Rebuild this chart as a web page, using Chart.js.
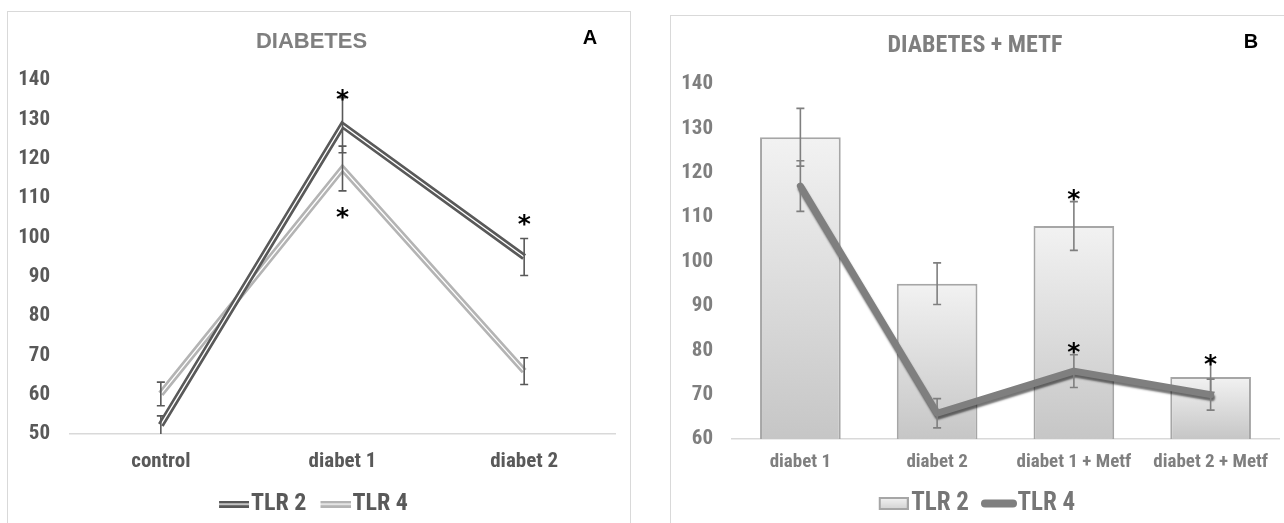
<!DOCTYPE html>
<html>
<head>
<meta charset="utf-8">
<script src="https://cdn.jsdelivr.net/npm/chart.js@4.4.1/dist/chart.umd.min.js"></script>
<style>
html, body { margin: 0; padding: 0; background: #fff; width: 1284px; height: 523px; overflow: hidden; }
.panel { position: absolute; border: 1.5px solid #d9d9d9; box-sizing: border-box; }
#panelA { left: 7px; top: 11px; width: 624px; height: 580px; }
#panelB { left: 670px; top: 15px; width: 640px; height: 580px; }
canvas { position: absolute; }
#chartA { left: 8px; top: 12px; }
#chartB { left: 671px; top: 16px; }
</style>
</head>
<body>
<div class="panel" id="panelA"></div>
<div class="panel" id="panelB"></div>
<canvas id="chartA" width="622" height="514"></canvas>
<canvas id="chartB" width="613" height="510"></canvas>
<script>
// panel A - DIABETES
const labelsA = ["control", "diabet 1", "diabet 2"];
const tlr2A = [52.3, 128.5, 95];
const tlr2ErrA = [2.3, 7, 4.7];
const tlr4A = [60.2, 117.5, 66];
const tlr4ErrA = [3, 5.7, 3.4];
const starIndexA = [1, 1, 2];
const starValueA = [136.3, 106.2, 104.5];

// panel B - DIABETES + METF
const labelsB = ["diabet 1", "diabet 2", "diabet 1 + Metf", "diabet 2 + Metf"];
const tlr2B = [128, 95, 108, 74];
const tlr2ErrB = [6.5, 4.7, 5.5, 3.5];
const tlr4B = [117, 65.8, 75.3, 70];
const tlr4ErrB = [5.7, 3.3, 3.7, 3.5];
const starIndexB = [2, 2, 3];
const starValueB = [115, 80.4, 77.7];

const FONT = "'Liberation Sans Narrow', 'Roboto Condensed', 'Liberation Sans', sans-serif";

// legend icons get empty space on the left so the text sits close to them
const icon = (w, h, pad, draw) => {
    const c = document.createElement("canvas");
    c.width = w + pad;
    c.height = h;
    const ctx = c.getContext("2d");
    ctx.translate(pad, 0);
    draw(ctx, w, h);
    return c;
};

const doubleLine = (color) => icon(30, 7, 14, (ctx, w, h) => {
    ctx.fillStyle = color;
    ctx.fillRect(0, 0, w, h);
    ctx.fillStyle = "#fff";
    ctx.fillRect(0, 3, w, 1.3);
});

const barIcon = icon(30, 13, 14, (ctx, w, h) => {
    const g = ctx.createLinearGradient(0, 0, 0, h);
    g.addColorStop(0, "#f4f4f4");
    g.addColorStop(1, "#d0d0d0");
    ctx.fillStyle = g;
    ctx.fillRect(0, 0, w, h);
    ctx.strokeStyle = "#a6a6a6";
    ctx.lineWidth = 2;
    ctx.strokeRect(1, 1, w - 2, h - 2);
});

const thickLine = icon(36, 9, 12, (ctx, w, h) => {
    ctx.strokeStyle = "#7f7f7f";
    ctx.lineWidth = 8;
    ctx.lineCap = "round";
    ctx.beginPath();
    ctx.moveTo(4, h / 2);
    ctx.lineTo(w - 4, h / 2);
    ctx.stroke();
});

const errorBars = {
    id: "errorBars",
    afterDatasetsDraw(chart, args, opts) {
        const {ctx, scales: {x, y}} = chart;
        ctx.save();
        ctx.strokeStyle = opts.color;
        ctx.lineWidth = 1.6;
        opts.series.forEach(({values, errors}) => {
            values.forEach((v, i) => {
                const px = x.getPixelForValue(i);
                const top = y.getPixelForValue(v + errors[i]);
                const bottom = y.getPixelForValue(Math.max(v - errors[i], y.min));
                ctx.beginPath();
                ctx.moveTo(px, top);
                ctx.lineTo(px, bottom);
                ctx.moveTo(px - 4, top);
                ctx.lineTo(px + 4, top);
                if (v - errors[i] > y.min) {
                    ctx.moveTo(px - 4, bottom);
                    ctx.lineTo(px + 4, bottom);
                }
                ctx.stroke();
            });
        });
        ctx.restore();
    }
};

const stars = {
    id: "stars",
    afterDatasetsDraw(chart, args, opts) {
        const {ctx, scales: {x, y}} = chart;
        ctx.save();
        ctx.fillStyle = "#000";
        ctx.font = "bold 25px 'DejaVu Sans'";
        ctx.textAlign = "center";
        const m = ctx.measureText("*");
        const shift = (m.actualBoundingBoxAscent - m.actualBoundingBoxDescent) / 2;
        opts.index.forEach((idx, i) => {
            ctx.fillText("*", x.getPixelForValue(idx), y.getPixelForValue(opts.value[i]) + shift);
        });
        ctx.restore();
    }
};

const panelLetter = {
    id: "panelLetter",
    afterDraw(chart, args, opts) {
        const ctx = chart.ctx;
        ctx.save();
        ctx.fillStyle = "#000";
        ctx.font = "bold 20px 'Liberation Sans'";
        ctx.textAlign = "center";
        ctx.textBaseline = "middle";
        ctx.fillText(opts.text, chart.chartArea.right + opts.dx, opts.y);
        ctx.restore();
    }
};

const lineShadow = {
    id: "lineShadow",
    beforeDatasetDraw(chart, args) {
        if (args.meta.type !== "line") return;
        const ctx = chart.ctx;
        ctx.save();
        ctx.shadowColor = "rgba(0,0,0,0.55)";
        ctx.shadowOffsetX = 1;
        ctx.shadowOffsetY = 3;
        ctx.shadowBlur = 2;
    },
    afterDatasetDraw(chart, args) {
        if (args.meta.type !== "line") return;
        chart.ctx.restore();
    }
};

new Chart(document.querySelector("#chartA"), {
    type: "line",
    data: {
        labels: labelsA,
        datasets: [{
            label: "TLR 2",
            data: tlr2A,
            borderColor: "#595959",
            borderWidth: 6.5,
            pointRadius: 0,
            pointStyle: doubleLine("#595959"),
            order: 2
        }, {
            label: "TLR 4",
            data: tlr4A,
            borderColor: "#b4b4b4",
            borderWidth: 6.5,
            pointRadius: 0,
            pointStyle: doubleLine("#b4b4b4"),
            order: 4
        }, {
            label: "",
            data: tlr2A,
            borderColor: "#fff",
            borderWidth: 1.3,
            pointRadius: 0,
            order: 1
        }, {
            label: "",
            data: tlr4A,
            borderColor: "#fff",
            borderWidth: 1.3,
            pointRadius: 0,
            order: 3
        }]
    },
    options: {
        responsive: false,
        animation: false,
        devicePixelRatio: 1,
        layout: {padding: {left: 0, right: 15, top: 0, bottom: 0}},
        scales: {
            x: {
                offset: true,
                grid: {display: false, drawTicks: false},
                border: {display: true, color: "#d9d9d9", width: 1.5},
                ticks: {color: "#595959", font: {family: FONT, size: 21, weight: "bold"}, padding: 15},
                afterFit: (s) => { s.height = 48; }
            },
            y: {
                min: 50,
                max: 140,
                grid: {display: false, drawTicks: false},
                border: {display: false},
                ticks: {stepSize: 10, color: "#595959", font: {family: FONT, size: 21, weight: "bold"}, padding: 20},
                afterFit: (s) => { s.width = 62; }
            }
        },
        plugins: {
            title: {
                display: true,
                text: "DIABETES",
                color: "#7f7f7f",
                font: {family: "'Liberation Sans', sans-serif", size: 22, weight: "bold"},
                padding: {top: 17, bottom: 24.6}
            },
            legend: {
                position: "bottom",
                labels: {
                    usePointStyle: true,
                    pointStyleWidth: 24,
                    padding: 10,
                    color: "#595959",
                    font: {family: FONT, size: 24, weight: "bold"},
                    filter: (item) => item.text !== "",
                    sort: (a, b) => a.datasetIndex - b.datasetIndex
                }
            },
            tooltip: {enabled: false},
            errorBars: {
                color: "#595959",
                series: [{values: tlr2A, errors: tlr2ErrA}, {values: tlr4A, errors: tlr4ErrA}]
            },
            stars: {index: starIndexA, value: starValueA},
            panelLetter: {text: "A", dx: -25, y: 26}
        }
    },
    plugins: [errorBars, stars, panelLetter]
});

new Chart(document.querySelector("#chartB"), {
    data: {
        labels: labelsB,
        datasets: [{
            type: "bar",
            label: "TLR 2",
            data: tlr2B,
            backgroundColor: (c) => {
                const {chart} = c;
                const y = chart.scales.y;
                if (!chart.chartArea || !y || c.raw === undefined) return "#dddddd";
                const top = y.getPixelForValue(c.raw);
                if (!Number.isFinite(top) || !Number.isFinite(y.bottom)) return "#dddddd";
                const g = chart.ctx.createLinearGradient(0, top, 0, y.bottom);
                g.addColorStop(0, "#f2f2f2");
                g.addColorStop(1, "#c6c6c6");
                return g;
            },
            borderColor: "#a6a6a6",
            borderWidth: 2,
            borderSkipped: false,
            barPercentage: 0.59,
            categoryPercentage: 1,
            pointStyle: barIcon,
            order: 2
        }, {
            type: "line",
            label: "TLR 4",
            data: tlr4B,
            borderColor: "#7f7f7f",
            borderWidth: 7,
            borderJoinStyle: "round",
            borderCapStyle: "round",
            pointRadius: 0,
            pointStyle: thickLine,
            order: 1
        }]
    },
    options: {
        responsive: false,
        animation: false,
        devicePixelRatio: 1,
        layout: {padding: {left: 0, right: 5, top: 0, bottom: 0}},
        scales: {
            x: {
                grid: {display: false, drawTicks: false},
                border: {display: true, color: "#d9d9d9", width: 1.5},
                ticks: {color: "#7f7f7f", font: {family: FONT, size: 19, weight: "bold"}, padding: 12},
                afterFit: (s) => { s.height = 40; }
            },
            y: {
                min: 60,
                max: 140,
                grid: {display: false, drawTicks: false},
                border: {display: false},
                ticks: {stepSize: 10, color: "#7f7f7f", font: {family: FONT, size: 21, weight: "bold"}, padding: 19},
                afterFit: (s) => { s.width = 61; }
            }
        },
        plugins: {
            title: {
                display: true,
                text: "DIABETES + METF",
                color: "#7f7f7f",
                font: {family: FONT, size: 24, weight: "bold"},
                padding: {top: 15.6, bottom: 23.6}
            },
            legend: {
                position: "bottom",
                labels: {
                    usePointStyle: true,
                    pointStyleWidth: 24,
                    padding: 12,
                    color: "#767676",
                    font: {family: FONT, size: 25, weight: "bold"},
                    sort: (a, b) => a.datasetIndex - b.datasetIndex
                }
            },
            tooltip: {enabled: false},
            errorBars: {
                color: "#7f7f7f",
                series: [{values: tlr2B, errors: tlr2ErrB}, {values: tlr4B, errors: tlr4ErrB}]
            },
            stars: {index: starIndexB, value: starValueB},
            panelLetter: {text: "B", dx: -28, y: 26}
        }
    },
    plugins: [lineShadow, errorBars, stars, panelLetter]
});
</script>
</body>
</html>
